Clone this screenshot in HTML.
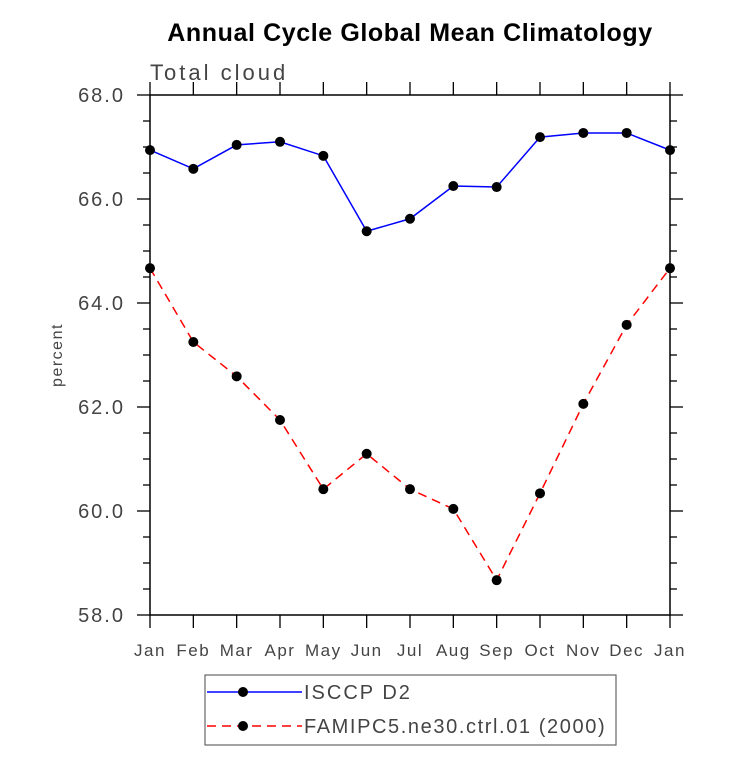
<!DOCTYPE html>
<html><head><meta charset="utf-8"><style>
body{margin:0;background:#fff;}
svg text{font-family:"Liberation Sans",sans-serif;}
</style></head><body>
<svg id="chart" width="733" height="766" xmlns="http://www.w3.org/2000/svg"></svg>
<script>
const months=["Jan","Feb","Mar","Apr","May","Jun","Jul","Aug","Sep","Oct","Nov","Dec","Jan"];
const isccp=[66.94,66.58,67.04,67.10,66.83,65.38,65.62,66.25,66.23,67.19,67.27,67.27,66.94];
const famip=[64.67,63.25,62.59,61.75,60.42,61.10,60.42,60.04,58.67,60.34,62.06,63.58,64.67];
const yTicks=[58,60,62,64,66,68];
const L=150,R=670,T=95,B=615,ymin=58,ymax=68;
const NS="http://www.w3.org/2000/svg";
const svg=document.getElementById('chart');
function xs(i){return L+(R-L)*i/(months.length-1);}
function ys(v){return B-(v-ymin)/(ymax-ymin)*(B-T);}
function el(t,a,p){const e=document.createElementNS(NS,t);for(const k in a)e.setAttribute(k,a[k]);(p||svg).appendChild(e);return e;}
let e;
e=el('text',{x:410,y:41,'text-anchor':'middle','font-size':25,'font-weight':'bold','letter-spacing':'0.6'});e.textContent='Annual Cycle Global Mean Climatology';


e=el('text',{x:150,y:80,'font-size':22,fill:'#444','letter-spacing':'3'});e.textContent='Total cloud';


e=el('rect',{x:L,y:T,width:R-L,height:B-T,fill:'none',stroke:'#000','stroke-width':1.5});


for(let v=58;v<=68;v+=0.5){
  const y=ys(v),maj=Math.abs(v-Math.round(v/2)*2)<1e-6,len=maj?13:7;
  el('line',{x1:L-len,x2:L,y1:y,y2:y,stroke:'#000','stroke-width':1.3});
  el('line',{x1:R,x2:R+len,y1:y,y2:y,stroke:'#000','stroke-width':1.3});
}
yTicks.forEach(v=>{e=el('text',{x:125,y:ys(v)+7,'text-anchor':'end','font-size':20,fill:'#444','letter-spacing':'2'});e.textContent=v.toFixed(1);

});
months.forEach((m,i)=>{const x=xs(i);
  el('line',{x1:x,x2:x,y1:B,y2:B+13,stroke:'#000','stroke-width':1.3});
  el('line',{x1:x,x2:x,y1:T-13,y2:T,stroke:'#000','stroke-width':1.3});
  e=el('text',{x:x,y:656,'text-anchor':'middle','font-size':17,fill:'#444','letter-spacing':'1.5'});e.textContent=m;
  
  
});
e=el('text',{x:0,y:0,'font-size':16,fill:'#444','text-anchor':'middle','letter-spacing':'1.5',transform:'translate(62,355) rotate(-90)'});e.textContent='percent';


function series(data,color,dash,name){
  const g=el('g',{});
  
  
  el('polyline',{points:data.map((v,i)=>xs(i)+','+ys(v)).join(' '),fill:'none',stroke:color,'stroke-width':1.5,'stroke-dasharray':dash},g);
  data.forEach((v,i)=>{const c=el('circle',{cx:xs(i),cy:ys(v),r:5,fill:'#000'},g);
    
    });
}
series(isccp,'#0000ff','none','isccp-series');
series(famip,'#ff0000','9,6','famip-series');
const lg=el('g',{});


el('rect',{x:205,y:675,width:411,height:70,fill:'#fff',stroke:'#666','stroke-width':1.2},lg);
el('line',{x1:207,x2:302,y1:692,y2:692,stroke:'#0000ff','stroke-width':1.5},lg);
el('circle',{cx:243,cy:692,r:5,fill:'#000'},lg);
e=el('text',{x:304,y:699,'font-size':20,fill:'#444','letter-spacing':'2'},lg);e.textContent='ISCCP D2';


el('line',{x1:207,x2:302,y1:726,y2:726,stroke:'#ff0000','stroke-width':1.5,'stroke-dasharray':'9,6'},lg);
el('circle',{cx:243,cy:726,r:5,fill:'#000'},lg);
e=el('text',{x:304,y:733,'font-size':20,fill:'#444','letter-spacing':'1.6'},lg);e.textContent='FAMIPC5.ne30.ctrl.01 (2000)';


</script>
</body></html>
